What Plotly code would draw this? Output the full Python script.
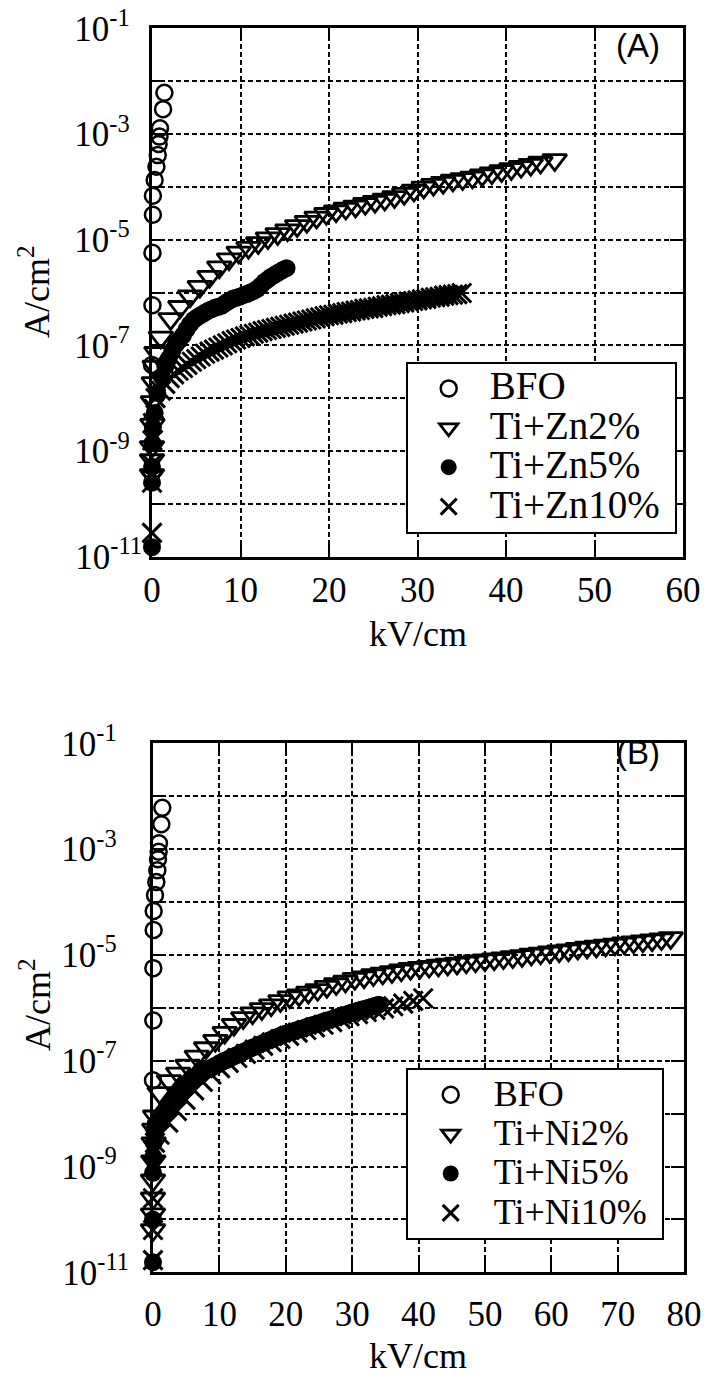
import plotly.graph_objects as go

# ---------------- Panel (A): Ti+Zn series ----------------
bfo_x = [0.0, 0.05, 0.05, 0.1, 0.1, 0.3, 0.5, 0.65, 0.75, 0.85, 0.9, 1.25, 1.4]
bfo_log = [-7.37, -6.24, -5.25, -4.53, -4.17, -3.87, -3.62, -3.40, -3.19, -3.05, -2.89, -2.53, -2.22]

zn2_x = [0.0, 0.0, 0.0, 0.05, 0.1, 0.2, 0.3, 0.5,
         1.0, 2.1, 3.2, 4.3, 5.4, 6.5, 7.6, 8.7, 9.8, 10.9, 12.0, 13.1, 14.2, 15.3, 16.4, 17.5,
         18.6, 19.7, 20.8, 21.9, 23.0, 24.1, 25.2, 26.3, 27.4, 28.5, 29.6, 30.7, 31.8, 32.9,
         34.0, 35.1, 36.2, 37.3, 38.4, 39.5, 40.6, 41.7, 42.8, 43.9, 45.5]
zn2_log = [-9.45, -9.17, -8.92, -8.50, -8.07, -7.71, -7.40, -7.14,
           -6.85, -6.50, -6.27, -6.07, -5.89, -5.70, -5.52, -5.37, -5.24, -5.15, -5.06, -4.97, -4.89, -4.82, -4.74, -4.66,
           -4.58, -4.51, -4.46, -4.41, -4.37, -4.32, -4.28, -4.24, -4.19, -4.13, -4.07, -4.01, -3.96, -3.92,
           -3.88, -3.85, -3.82, -3.78, -3.74, -3.70, -3.66, -3.62, -3.58, -3.54, -3.49]

zn5_x = [0.0, 0.0, 0.0, 0.05, 0.1, 0.3, 0.6,
         1.1, 1.5, 1.9, 2.3, 2.7, 3.1, 3.5, 3.9, 4.3, 4.7, 5.1, 5.5, 5.9, 6.3, 6.7, 7.1, 7.5, 7.9,
         8.3, 8.7, 9.1, 9.5, 9.9, 10.3, 10.7, 11.1, 11.5, 11.9, 12.3, 12.7, 13.1, 13.5, 13.9, 14.3,
         14.7, 15.2]
zn5_log = [-10.82, -9.60, -9.30, -8.85, -8.55, -8.28, -7.90,
           -7.59, -7.40, -7.25, -7.10, -6.98, -6.90, -6.81, -6.70, -6.60, -6.52, -6.47, -6.43, -6.39, -6.35, -6.32, -6.29, -6.27, -6.25,
           -6.20, -6.16, -6.12, -6.10, -6.08, -6.05, -6.03, -6.00, -5.97, -5.93, -5.87, -5.80, -5.75, -5.70, -5.66, -5.62,
           -5.58, -5.54]

zn10_x = [0.0, 0.0, 0.0, 0.05, 0.1, 0.2, 0.4,
          1.0, 1.5, 2.0, 2.5, 3.0, 3.5, 4.0, 4.5, 5.0, 5.5, 6.0, 6.5, 7.0, 7.5, 8.0, 8.5, 9.0, 9.5,
          10.0, 10.5, 11.0, 11.5, 12.0, 12.5, 13.0, 13.5, 14.0, 14.5, 15.0, 15.5, 16.0, 16.5, 17.0, 17.5,
          18.0, 18.5, 19.0, 19.5, 20.0, 20.5, 21.0, 21.5, 22.0, 22.5, 23.0, 23.5, 24.0, 24.5, 25.0, 25.5,
          26.0, 26.5, 27.0, 27.5, 28.0, 28.5, 29.0, 29.5, 30.0, 30.5, 31.0, 31.5, 32.0, 32.5, 33.0, 33.5,
          34.0, 34.5, 35.0]
zn10_log = [-10.55, -9.60, -9.25, -8.80, -8.47, -8.20, -8.00,
            -7.86, -7.73, -7.62, -7.55, -7.48, -7.43, -7.37, -7.31, -7.26, -7.21, -7.16, -7.12, -7.08, -7.04, -7.00, -6.96, -6.92, -6.89,
            -6.86, -6.83, -6.81, -6.78, -6.76, -6.73, -6.71, -6.69, -6.67, -6.65, -6.63, -6.61, -6.59, -6.57, -6.55, -6.53,
            -6.51, -6.49, -6.47, -6.45, -6.43, -6.42, -6.40, -6.39, -6.37, -6.36, -6.34, -6.33, -6.31, -6.30, -6.29, -6.27,
            -6.26, -6.24, -6.23, -6.22, -6.20, -6.19, -6.17, -6.16, -6.15, -6.13, -6.12, -6.10, -6.09, -6.08, -6.06, -6.05,
            -6.04, -6.03, -6.01]

# ---------------- Panel (B): Ti+Ni series ----------------
ni2_x = [0.0, 0.0, 0.0, 0.0, 0.05, 0.1, 0.2, 0.3,
         1.0, 2.4, 3.8, 5.2, 6.6, 8.0, 9.4, 10.8, 12.2, 13.6, 15.0, 16.4, 17.8, 19.2, 20.6, 22.0,
         23.4, 24.8, 26.2, 27.6, 29.0, 30.4, 31.8, 33.2, 34.6, 36.0, 37.4, 38.8, 40.2, 41.6, 43.0,
         44.4, 45.8, 47.2, 48.6, 50.0, 51.4, 52.8, 54.2, 55.6, 57.0, 58.4, 59.8, 61.2, 62.6, 64.0,
         65.4, 66.8, 68.2, 69.6, 71.0, 72.4, 73.8, 75.2, 76.6, 78.0]
ni2_log = [-10.20, -9.90, -9.60, -9.26, -8.90, -8.56, -8.30, -8.05,
           -7.61, -7.38, -7.24, -7.09, -6.92, -6.76, -6.62, -6.47, -6.32, -6.19, -6.10, -6.02, -5.95, -5.87, -5.80, -5.76,
           -5.71, -5.66, -5.60, -5.55, -5.50, -5.45, -5.42, -5.38, -5.35, -5.32, -5.29, -5.26, -5.24, -5.22, -5.20,
           -5.18, -5.16, -5.14, -5.12, -5.10, -5.08, -5.06, -5.04, -5.02, -4.99, -4.97, -4.95, -4.93, -4.91, -4.88,
           -4.86, -4.84, -4.82, -4.80, -4.78, -4.76, -4.74, -4.72, -4.70, -4.68]

ni5_x = [0.0, 0.0, 0.0, 0.05, 0.1, 0.2, 0.4,
         1.0, 1.5, 2.0, 2.5, 3.0, 3.5, 4.0, 4.5, 5.0, 5.5, 6.0, 6.5, 7.0, 7.5, 8.0, 8.5, 9.0, 9.5,
         10.0, 10.5, 11.0, 11.5, 12.0, 12.5, 13.0, 13.5, 14.0, 14.5, 15.0, 15.5, 16.0, 16.5, 17.0, 17.5,
         18.0, 18.5, 19.0, 19.5, 20.0, 20.5, 21.0, 21.5, 22.0, 22.5, 23.0, 23.5, 24.0, 24.5, 25.0, 25.5,
         26.0, 26.5, 27.0, 27.5, 28.0, 28.5, 29.0, 29.5, 30.0, 30.5, 31.0, 31.5, 32.0, 32.5, 33.0, 33.5, 34.0]
ni5_log = [-10.81, -10.00, -9.12, -8.82, -8.55, -8.31, -8.20,
           -8.10, -7.99, -7.90, -7.82, -7.75, -7.66, -7.58, -7.51, -7.44, -7.38, -7.34, -7.30, -7.26, -7.22, -7.18, -7.15, -7.12, -7.09,
           -7.05, -7.02, -6.99, -6.96, -6.93, -6.90, -6.87, -6.84, -6.81, -6.78, -6.75, -6.73, -6.70, -6.67, -6.64, -6.62,
           -6.59, -6.56, -6.54, -6.51, -6.49, -6.47, -6.45, -6.43, -6.41, -6.39, -6.37, -6.35, -6.33, -6.31, -6.29, -6.27,
           -6.25, -6.23, -6.21, -6.19, -6.17, -6.15, -6.13, -6.11, -6.09, -6.07, -6.05, -6.03, -6.02, -6.00, -5.98, -5.96, -5.94]

ni10_x = [0.0, 0.0, 0.0, 0.05, 0.1, 0.3,
          1.0, 2.3, 3.6, 4.9, 6.2, 7.5, 8.8, 10.1, 11.4, 12.7, 14.0, 15.3, 16.6, 17.9, 19.2, 20.5,
          21.8, 23.1, 24.4, 25.7, 27.0, 28.3, 29.6, 30.9, 32.2, 33.5, 34.8, 36.2, 37.7, 39.2, 40.7]
ni10_log = [-10.77, -10.20, -9.60, -9.00, -8.70, -8.55,
            -8.40, -8.17, -7.95, -7.74, -7.56, -7.40, -7.26, -7.14, -7.04, -6.95, -6.87, -6.79, -6.72, -6.65, -6.59, -6.53,
            -6.47, -6.42, -6.37, -6.32, -6.27, -6.21, -6.16, -6.12, -6.08, -6.04, -6.01, -5.97, -5.92, -5.87, -5.82]

names_a = ["BFO", "Ti+Zn2%", "Ti+Zn5%", "Ti+Zn10%"]
names_b = ["BFO", "Ti+Ni2%", "Ti+Ni5%", "Ti+Ni10%"]

y_tickvals = [1e-11, 1e-10, 1e-9, 1e-8, 1e-7, 1e-6, 1e-5, 1e-4, 1e-3, 1e-2, 1e-1]
NB = "\u00a0\u00a0"
y_ticktext = ["10<sup>-11</sup>", "", "10<sup>-9" + NB + "</sup>", "", "10<sup>-7" + NB + "</sup>", "",
              "10<sup>-5" + NB + "</sup>", "", "10<sup>-3" + NB + "</sup>", "", "10<sup>-1" + NB + "</sup>"]

series_a = [(bfo_x, bfo_log), (zn2_x, zn2_log), (zn5_x, zn5_log), (zn10_x, zn10_log)]
series_b = [(bfo_x, bfo_log), (ni2_x, ni2_log), (ni5_x, ni5_log), (ni10_x, ni10_log)]
for xs, ls in series_a + series_b:
    assert len(xs) == len(ls)

styles = [
    dict(symbol="circle-open", size=16, color="black", line=dict(width=2.5, color="black")),
    dict(symbol="triangle-down-open", size=21, color="black", line=dict(width=2.8, color="black")),
    dict(symbol="circle", size=18, color="black", line=dict(width=0, color="black")),
    dict(symbol="x-thin-open", size=19, color="black", line=dict(width=3, color="black")),
]

SERIF = "Liberation Serif"
W, H = 704, 1380


def leg_name(s, px):
    return "<span style='font-size:%dpx'>%s\u00a0</span>" % (px, s)


fig = go.Figure()
for (xs, ls), nm, st in zip(series_a, names_a, styles):
    fig.add_trace(go.Scatter(x=xs, y=[10 ** v for v in ls], mode="markers", name=leg_name(nm, 39),
                             marker=st, xaxis="x", yaxis="y", legend="legend", cliponaxis=False))
for (xs, ls), nm, st in zip(series_b, names_b, styles):
    fig.add_trace(go.Scatter(x=xs, y=[10 ** v for v in ls], mode="markers", name=leg_name(nm, 36),
                             marker=st, xaxis="x2", yaxis="y2", legend="legend2", cliponaxis=False))

common_axis = dict(
    showline=True, linewidth=3, linecolor="black", mirror="ticks",
    ticks="inside", ticklen=13, tickwidth=2, tickcolor="black",
    showgrid=True, gridcolor="black", gridwidth=1.6, griddash="5px,3px",
    zeroline=False, automargin=False, tickfont=dict(family=SERIF, size=35, color="black"),
)

fig.update_layout(
    template="none",
    width=W, height=H, margin=dict(l=0, r=0, t=0, b=0, pad=0, autoexpand=False),
    paper_bgcolor="white", plot_bgcolor="white",
    xaxis=dict(domain=[152 / W, 683 / W], range=[0, 60], tickmode="array",
               tickvals=[0, 10, 20, 30, 40, 50, 60], anchor="y", ticklabelstandoff=0, **common_axis),
    yaxis=dict(domain=[1 - 556.7 / H, 1 - 28.3 / H], type="log", range=[-11, -1], tickmode="array",
               tickvals=y_tickvals, ticktext=y_ticktext, anchor="x", ticklabelstandoff=0, **common_axis),
    xaxis2=dict(domain=[153 / W, 684 / W], range=[0, 80], tickmode="array",
                tickvals=[0, 10, 20, 30, 40, 50, 60, 70, 80], anchor="y2", ticklabelstandoff=9, **common_axis),
    yaxis2=dict(domain=[1 - 1272.3 / H, 1 - 743.3 / H], type="log", range=[-11, -1], tickmode="array",
                tickvals=y_tickvals, ticktext=y_ticktext, anchor="x2", ticklabelstandoff=14, **common_axis),
    legend=dict(x=405.7 / W, y=1 - 361.7 / H, xanchor="left", yanchor="top", bgcolor="white",
                bordercolor="black", borderwidth=2, itemwidth=72, tracegroupgap=0,
                font=dict(family=SERIF, size=28, color="black")),
    legend2=dict(x=405.7 / W, y=1 - 1068 / H, xanchor="left", yanchor="top", bgcolor="white",
                 bordercolor="black", borderwidth=2, itemwidth=76, tracegroupgap=0,
                 font=dict(family=SERIF, size=28, color="black")),
    showlegend=True,
)

annots = [
    dict(text="(A)", x=638 / W, y=1 - 46 / H, font=dict(family="Liberation Sans", size=33, color="black")),
    dict(text="(B)", x=638 / W, y=1 - 753 / H, font=dict(family="Liberation Sans", size=33, color="black")),
    dict(text="A/cm<sup>2</sup>", x=35 / W, y=1 - 292 / H, textangle=-90,
         font=dict(family=SERIF, size=36, color="black")),
    dict(text="A/cm<sup>2</sup>", x=35 / W, y=1 - 1005 / H, textangle=-90,
         font=dict(family=SERIF, size=36, color="black")),
    dict(text="kV/cm", x=418 / W, y=1 - 634 / H, font=dict(family=SERIF, size=36, color="black")),
    dict(text="kV/cm", x=418 / W, y=1 - 1356 / H, font=dict(family=SERIF, size=36, color="black")),
]
for a in annots:
    fig.add_annotation(xref="paper", yref="paper", xanchor="center", yanchor="middle",
                       showarrow=False, **a)

fig.write_html("out.html")
